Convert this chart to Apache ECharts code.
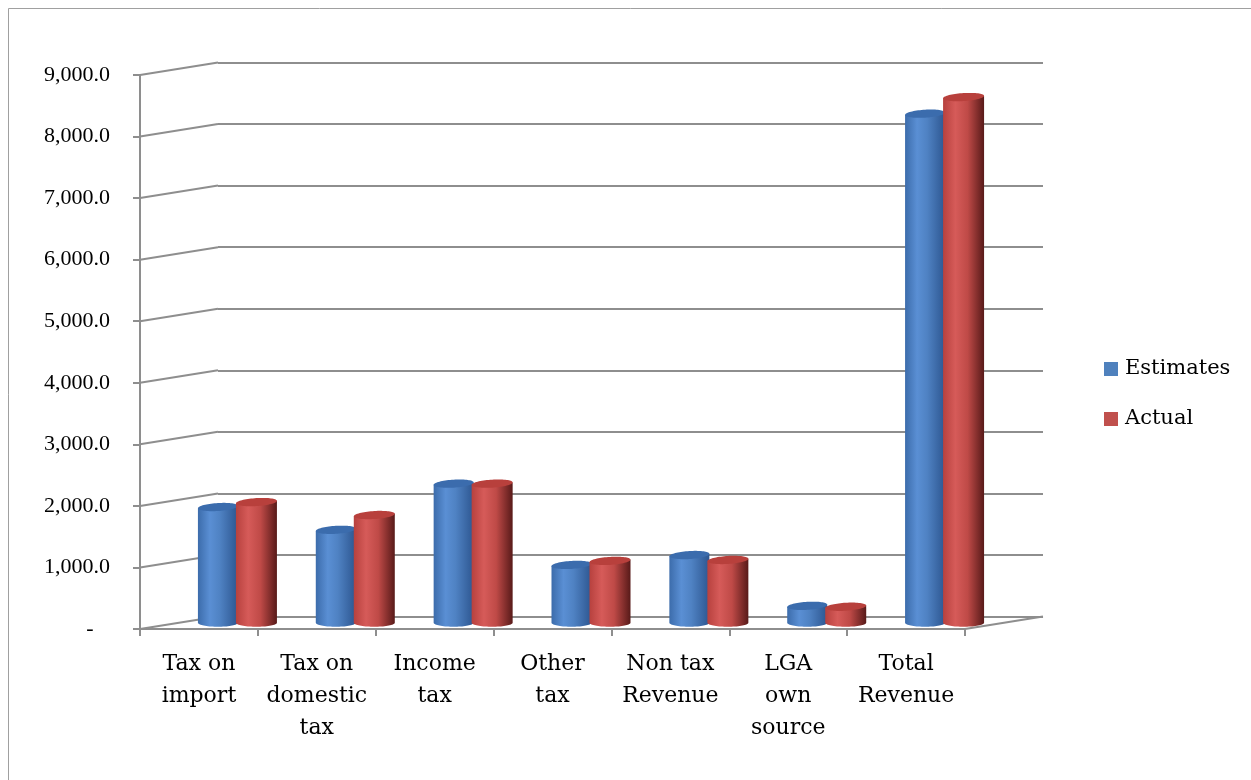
<!DOCTYPE html>
<html>
<head>
<meta charset="utf-8">
<script src="https://cdn.jsdelivr.net/npm/echarts@6/dist/echarts.min.js"></script>
<style>
html,body{margin:0;padding:0;background:#fff;}
#chart{width:1251px;height:780px;}
</style>
</head>
<body>
<div id="chart"></div>
<script>
const categories = ['Tax on\nimport', 'Tax on\ndomestic\ntax', 'Income\ntax', 'Other\ntax', 'Non tax\nRevenue', 'LGA\nown\nsource', 'Total\nRevenue'];
const estimates = [1880, 1510, 2260, 940, 1100, 275, 8270];
const actual = [1960, 1750, 2260, 1005, 1020, 260, 8540];
const yTicks = [0, 1000, 2000, 3000, 4000, 5000, 6000, 7000, 8000, 9000];
const seriesNames = ['Estimates', 'Actual'];

const DX = 78, DY = -12.5;
const FRONT = {left: 140, right: 286, top: 75, bottom: 151};
const BACK = {left: FRONT.left + DX, right: FRONT.right - DX, top: FRONT.top + DY, bottom: FRONT.bottom - DY};
const GRID_COLOR = '#8e8e8e';

function fmt(v) {
  if (v === 0) return '-   ';
  return v.toLocaleString('en-US', {minimumFractionDigits: 1, maximumFractionDigits: 1});
}

function grad(stops) {
  return new echarts.graphic.LinearGradient(0, 0, 1, 0, stops.map(c => ({offset: c[0], color: c[1]})));
}
const bodyFill = [
  grad([[0, '#3c6cab'], [0.3, '#5a8fd4'], [0.55, '#4f82c3'], [1, '#2d5690']]),
  grad([[0, '#b7413e'], [0.3, '#d65b59'], [0.6, '#bf4a47'], [1, '#581a19']])
];
const topFill = ['#3b6cad', '#b8403c'];

function cylinder(params, api, s, offsetC, width) {
  const idx = api.value(0);
  const val = api.value(1);
  const base = api.coord([idx, 0]);
  const topP = api.coord([idx, val]);
  const cx = base[0] + DX / 2 + offsetC;
  const y0 = base[1] + DY / 2;
  const y1 = topP[1] + DY / 2;
  const hw = width / 2, ry = 4, tilt = 0.06;
  const N = 36;
  const body = [];
  body.push([cx - hw, y1 + tilt * hw]);
  body.push([cx - hw, y0]);
  for (let k = 0; k <= N; k++) {
    const t = Math.PI - Math.PI * k / N;
    body.push([cx + hw * Math.cos(t), y0 + ry * Math.sin(t)]);
  }
  body.push([cx + hw, y1 - tilt * hw]);
  const top = [];
  for (let k = 0; k < 2 * N; k++) {
    const t = 2 * Math.PI * k / (2 * N);
    const x = cx + hw * Math.cos(t);
    top.push([x, y1 + ry * Math.sin(t) - tilt * (x - cx)]);
  }
  return {
    type: 'group',
    children: [
      {type: 'polygon', shape: {points: body}, style: {fill: bodyFill[s], stroke: null}},
      {type: 'polygon', shape: {points: top}, style: {fill: topFill[s], stroke: null}}
    ]
  };
}

const chart = echarts.init(document.getElementById('chart'));
const option = {
  animation: false,
  backgroundColor: '#ffffff',
  textStyle: {fontFamily: 'DejaVu Serif', color: '#000'},
  graphic: [{
    type: 'rect', left: 6, top: 6, shape: {width: 1300, height: 820},
    style: {fill: 'none', stroke: '#a0a0a0', lineWidth: 1}, silent: true, z: 0
  }],
  legend: {
    orient: 'vertical', left: 1104, top: 358, padding: 0,
    icon: 'rect', itemWidth: 14, itemHeight: 14, itemGap: 28,
    data: seriesNames,
    textStyle: {fontFamily: 'DejaVu Serif', fontSize: 21, color: '#000', lineHeight: 22, padding: [0, 0, 0, 2]}
  },
  grid: [
    {left: BACK.left, right: BACK.right, top: BACK.top, bottom: BACK.bottom, containLabel: false},
    {left: FRONT.left, right: FRONT.right, top: FRONT.top, bottom: FRONT.bottom, containLabel: false}
  ],
  xAxis: [
    {gridIndex: 0, type: 'category', data: categories, show: false},
    {
      gridIndex: 1, type: 'category', data: categories, boundaryGap: true,
      axisLine: {show: true, lineStyle: {color: GRID_COLOR, width: 2}},
      axisTick: {show: true, length: 7, alignWithLabel: false, lineStyle: {color: GRID_COLOR, width: 2}},
      axisLabel: {interval: 0, margin: 19, fontFamily: 'DejaVu Serif', fontSize: 22, lineHeight: 32, color: '#000', align: 'center'}
    }
  ],
  yAxis: [
    {
      gridIndex: 0, type: 'value', min: 0, max: 9000, interval: 1000,
      axisLine: {show: false}, axisTick: {show: false}, axisLabel: {show: false},
      splitLine: {show: true, lineStyle: {color: GRID_COLOR, width: 2}}
    },
    {
      gridIndex: 1, type: 'value', min: 0, max: 9000, interval: 1000,
      axisLine: {show: true, lineStyle: {color: GRID_COLOR, width: 2}},
      axisTick: {show: true, length: 7, lineStyle: {color: GRID_COLOR, width: 2}},
      splitLine: {show: false},
      axisLabel: {margin: 30, formatter: fmt, fontFamily: 'Liberation Serif', fontSize: 22, color: '#000'}
    }
  ],
  series: [
    {
      name: 'walls', type: 'custom', xAxisIndex: 1, yAxisIndex: 1, silent: true, z: 1,
      data: yTicks.map(v => [0, v]),
      renderItem: function (params, api) {
        const v = api.value(1);
        const p = api.coord([0, v]);
        const band = api.size([1, 0])[0];
        const xl = p[0] - band / 2;
        const children = [{
          type: 'line', shape: {x1: xl, y1: p[1], x2: xl + DX, y2: p[1] + DY},
          style: {stroke: GRID_COLOR, lineWidth: 2}
        }];
        if (v === 0) {
          const pr = api.coord([categories.length - 1, 0]);
          const xr = pr[0] + band / 2;
          children.push({
            type: 'line', shape: {x1: xr, y1: pr[1], x2: xr + DX, y2: pr[1] + DY},
            style: {stroke: GRID_COLOR, lineWidth: 2}
          });
        }
        return {type: 'group', children: children};
      }
    },
    {
      name: seriesNames[0], type: 'custom', xAxisIndex: 1, yAxisIndex: 1, z: 3,
      itemStyle: {color: '#4f81bd'},
      data: estimates.map((v, i) => [i, v]),
      renderItem: function (params, api) { return cylinder(params, api, 0, -20, 40); }
    },
    {
      name: seriesNames[1], type: 'custom', xAxisIndex: 1, yAxisIndex: 1, z: 4,
      itemStyle: {color: '#c0504d'},
      data: actual.map((v, i) => [i, v]),
      renderItem: function (params, api) { return cylinder(params, api, 1, 18.5, 41); }
    }
  ]
};
chart.setOption(option);
</script>
</body>
</html>
